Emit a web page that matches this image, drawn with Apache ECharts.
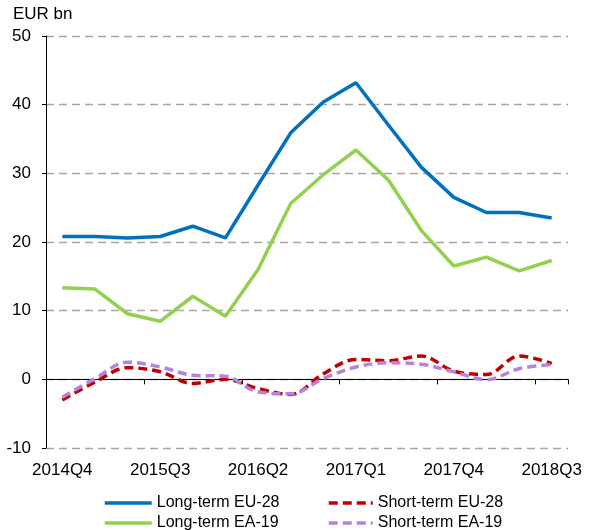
<!DOCTYPE html>
<html>
<head>
<meta charset="utf-8">
<script src="https://cdn.jsdelivr.net/npm/echarts@6/dist/echarts.min.js"></script>
<style>
  html, body { margin: 0; padding: 0; background: #fff; }
  #chart { width: 589px; height: 530px; }
</style>
</head>
<body>
<div id="chart"></div>
<script>
// Quarterly net issuance, EUR bn
const quarters = [
  '2014Q4', '2015Q1', '2015Q2', '2015Q3', '2015Q4', '2016Q1', '2016Q2', '2016Q3',
  '2016Q4', '2017Q1', '2017Q2', '2017Q3', '2017Q4', '2018Q1', '2018Q2', '2018Q3'
];
const longTermEU28 = [20.8, 20.8, 20.6, 20.8, 22.3, 20.6, 28.3, 35.9, 40.4, 43.2, 37.0, 30.9, 26.5, 24.3, 24.3, 23.5];
const longTermEA19 = [13.35, 13.15, 9.55, 8.45, 12.1, 9.2, 16.0, 25.6, 29.8, 33.4, 29.0, 21.7, 16.5, 17.8, 15.8, 17.3];
const shortTermEU28 = [-3.0, -0.4, 1.7, 1.1, -0.6, 0.0, -1.35, -2.2, 0.8, 2.9, 2.7, 3.4, 1.2, 0.7, 3.4, 2.3];
const shortTermEA19 = [-2.6, 0.1, 2.5, 1.8, 0.6, 0.45, -1.85, -2.1, 0.1, 1.8, 2.4, 2.2, 1.1, -0.05, 1.55, 2.15];
const yMin = -10, yMax = 50, yStep = 10;

const FONT = '"Liberation Sans", Arial, sans-serif';
const chart = echarts.init(document.getElementById('chart'));

const legendText = { fontFamily: FONT, fontSize: 16, color: '#000' };
const legendBase = {
  orient: 'vertical', top: 490, height: 120,
  itemHeight: 14, itemGap: 4,
  itemStyle: { opacity: 0 },
  lineStyle: { width: 3.5 },
  textStyle: legendText
};

chart.setOption({
  animation: false,
  backgroundColor: '#fff',
  grid: { left: 46, right: 21, top: 36, bottom: 82 },
  graphic: [{
    type: 'text', left: 13, top: 6,
    style: { text: 'EUR bn', fontFamily: FONT, fontSize: 17, fill: '#000' }
  }],
  legend: [
    Object.assign({}, legendBase, {
      left: 98, itemWidth: 47,
      data: ['Long-term EU-28', 'Long-term EA-19']
    }),
    Object.assign({}, legendBase, {
      left: 322, itemWidth: 44,
      data: ['Short-term EU-28', 'Short-term EA-19']
    })
  ],
  xAxis: [
    {
      type: 'category', data: quarters, boundaryGap: true,
      axisLine: { onZero: true, lineStyle: { color: '#000', width: 1 } },
      axisTick: { show: true, interval: 2, length: 5, lineStyle: { color: '#000' } },
      axisLabel: { show: false },
      splitLine: { show: false }
    },
    {
      type: 'category', data: quarters, boundaryGap: true, position: 'bottom',
      axisLine: { show: false, onZero: false },
      axisTick: { show: false },
      axisLabel: { interval: 2, margin: 14, fontFamily: FONT, fontSize: 17, color: '#000' },
      splitLine: { show: false }
    }
  ],
  yAxis: {
    type: 'value', min: yMin, max: yMax, interval: yStep,
    axisLine: { show: true, lineStyle: { color: '#000', width: 1 } },
    axisTick: { show: true, length: 4, lineStyle: { color: '#000' } },
    axisLabel: { margin: 15, fontFamily: FONT, fontSize: 17, color: '#000' },
    splitLine: { show: true, lineStyle: { color: '#A6A6A6', width: 1.3, type: [8, 5] } }
  },
  series: [
    {
      name: 'Long-term EU-28', type: 'line', data: longTermEU28, xAxisIndex: 0,
      symbol: 'none', lineStyle: { color: '#0070C0', width: 3.5 }, itemStyle: { color: '#0070C0' }
    },
    {
      name: 'Long-term EA-19', type: 'line', data: longTermEA19, xAxisIndex: 0,
      symbol: 'none', lineStyle: { color: '#92D050', width: 3.5 }, itemStyle: { color: '#92D050' }
    },
    {
      name: 'Short-term EU-28', type: 'line', data: shortTermEU28, xAxisIndex: 0, smooth: 0.35,
      symbol: 'none', lineStyle: { color: '#C00000', width: 3.5, type: [9, 5] }, itemStyle: { color: '#C00000' }
    },
    {
      name: 'Short-term EA-19', type: 'line', data: shortTermEA19, xAxisIndex: 0, smooth: 0.35,
      symbol: 'none', lineStyle: { color: '#B383E0', width: 3.5, type: [9, 5] }, itemStyle: { color: '#B383E0' }
    }
  ]
});
</script>
</body>
</html>
